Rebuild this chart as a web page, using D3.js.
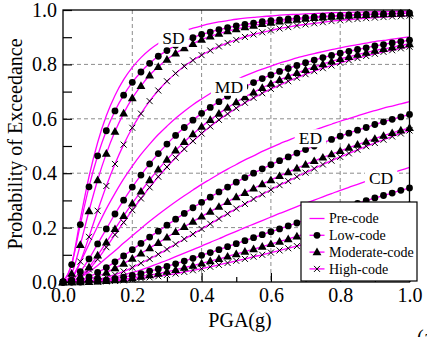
<!DOCTYPE html>
<html>
<head>
<meta charset="utf-8">
<script src="https://cdn.jsdelivr.net/npm/d3@7"></script>
<style>
  body { margin: 0; background: #fff; }
  svg { display: block; font-family: 'Liberation Serif', 'Tinos', 'DejaVu Serif', 'Noto Serif', serif; }
  svg text { font-family: 'Liberation Serif', 'Tinos', 'DejaVu Serif', 'Noto Serif', serif !important; fill: #000; }
</style>
</head>
<body>
<svg id="chart" width="427" height="337"></svg>
<script>
// PGA sample points (g)
const pga = [0,0.025,0.05,0.075,0.1,0.125,0.15,0.175,0.2,0.225,0.25,0.275,0.3,0.325,0.35,0.375,0.4,0.425,0.45,0.475,0.5,0.525,0.55,0.575,0.6,0.625,0.65,0.675,0.7,0.725,0.75,0.775,0.8,0.825,0.85,0.875,0.9,0.925,0.95,0.975,1];

const codes = ["Pre-code", "Low-code", "Moderate-code", "High-code"];
const states = ["SD", "MD", "ED", "CD"];

// Probability of exceedance, slight damage
const sdPre  = [0,0.066,0.231,0.387,0.513,0.611,0.686,0.744,0.789,0.825,0.854,0.877,0.895,0.910,0.923,0.933,0.942,0.950,0.956,0.961,0.966,0.970,0.973,0.976,0.978,0.981,0.983,0.984,0.986,0.987,0.988,0.990,0.990,0.991,0.992,0.993,0.993,0.994,0.994,0.995,0.995];
const sdLow  = [0,0.064,0.211,0.350,0.464,0.556,0.629,0.687,0.734,0.772,0.804,0.830,0.851,0.870,0.885,0.898,0.910,0.919,0.928,0.935,0.942,0.947,0.952,0.957,0.961,0.964,0.967,0.970,0.972,0.975,0.977,0.978,0.980,0.982,0.983,0.984,0.985,0.986,0.987,0.988,0.989];
const sdMod  = [0,0.031,0.137,0.261,0.375,0.472,0.553,0.620,0.676,0.721,0.760,0.791,0.818,0.841,0.860,0.876,0.891,0.903,0.913,0.922,0.930,0.937,0.943,0.949,0.954,0.958,0.962,0.965,0.968,0.971,0.973,0.976,0.977,0.979,0.981,0.982,0.984,0.985,0.986,0.987,0.988];
const sdHigh = [0,0.012,0.075,0.166,0.262,0.353,0.434,0.505,0.567,0.619,0.665,0.704,0.738,0.767,0.793,0.815,0.834,0.851,0.866,0.879,0.890,0.901,0.910,0.918,0.925,0.932,0.937,0.943,0.947,0.951,0.955,0.959,0.962,0.965,0.967,0.970,0.972,0.974,0.976,0.977,0.979];

// Moderate damage
const mdPre  = [0,0.018,0.072,0.139,0.205,0.269,0.326,0.379,0.426,0.469,0.507,0.542,0.573,0.602,0.628,0.652,0.673,0.693,0.711,0.728,0.743,0.758,0.771,0.783,0.794,0.805,0.814,0.824,0.832,0.840,0.847,0.854,0.861,0.867,0.873,0.878,0.884,0.888,0.893,0.897,0.901];
const mdLow  = [0,0.007,0.038,0.085,0.140,0.195,0.250,0.301,0.349,0.393,0.434,0.472,0.507,0.539,0.568,0.595,0.620,0.642,0.663,0.683,0.701,0.718,0.733,0.748,0.761,0.774,0.785,0.796,0.806,0.816,0.825,0.833,0.841,0.848,0.855,0.861,0.868,0.873,0.879,0.884,0.889];
const mdMod  = [0,0.003,0.021,0.055,0.098,0.146,0.195,0.243,0.289,0.333,0.375,0.414,0.450,0.484,0.515,0.544,0.571,0.596,0.619,0.641,0.661,0.680,0.697,0.714,0.729,0.743,0.756,0.769,0.780,0.791,0.801,0.811,0.820,0.828,0.836,0.843,0.851,0.857,0.863,0.870,0.875];
const mdHigh = [0,0.002,0.017,0.046,0.084,0.128,0.174,0.219,0.264,0.307,0.348,0.387,0.423,0.457,0.489,0.518,0.546,0.572,0.596,0.618,0.639,0.659,0.677,0.694,0.710,0.724,0.738,0.751,0.764,0.775,0.786,0.796,0.806,0.815,0.823,0.831,0.839,0.846,0.852,0.859,0.865];

// Extensive damage
const edPre  = [0,0.003,0.016,0.037,0.061,0.088,0.115,0.143,0.170,0.197,0.223,0.248,0.272,0.295,0.317,0.338,0.359,0.378,0.397,0.415,0.432,0.449,0.464,0.480,0.494,0.508,0.521,0.534,0.546,0.558,0.569,0.580,0.591,0.601,0.611,0.621,0.630,0.639,0.647,0.655,0.663];
const edLow  = [0,0.001,0.007,0.019,0.035,0.053,0.074,0.096,0.119,0.142,0.165,0.187,0.209,0.231,0.252,0.273,0.293,0.312,0.331,0.349,0.367,0.384,0.400,0.416,0.431,0.446,0.460,0.474,0.487,0.500,0.512,0.524,0.536,0.547,0.558,0.568,0.579,0.589,0.598,0.607,0.616];
const edMod  = [0,0.000,0.004,0.011,0.021,0.035,0.051,0.068,0.086,0.105,0.125,0.144,0.164,0.184,0.203,0.222,0.241,0.259,0.277,0.295,0.312,0.328,0.344,0.360,0.375,0.390,0.404,0.418,0.432,0.445,0.458,0.470,0.482,0.494,0.505,0.516,0.527,0.538,0.548,0.558,0.567];
const edHigh = [0,0.000,0.001,0.004,0.009,0.017,0.027,0.039,0.053,0.069,0.085,0.102,0.120,0.139,0.158,0.176,0.195,0.214,0.233,0.251,0.270,0.287,0.305,0.322,0.339,0.356,0.371,0.387,0.402,0.417,0.432,0.446,0.460,0.473,0.486,0.499,0.511,0.523,0.535,0.546,0.557];

// Complete damage
const cdPre  = [0,0.000,0.001,0.003,0.006,0.011,0.018,0.026,0.035,0.045,0.056,0.068,0.080,0.093,0.106,0.119,0.132,0.146,0.159,0.173,0.186,0.200,0.213,0.226,0.239,0.252,0.264,0.277,0.289,0.301,0.313,0.325,0.337,0.348,0.359,0.370,0.381,0.391,0.401,0.411,0.421];
const cdLow  = [0,0.000,0.000,0.002,0.004,0.007,0.012,0.018,0.024,0.031,0.040,0.048,0.057,0.067,0.077,0.087,0.098,0.108,0.119,0.130,0.141,0.152,0.163,0.174,0.185,0.195,0.206,0.217,0.228,0.238,0.249,0.259,0.269,0.279,0.289,0.299,0.309,0.318,0.327,0.337,0.346];
const cdMod  = [0,0.000,0.000,0.001,0.002,0.004,0.007,0.010,0.015,0.020,0.025,0.031,0.038,0.045,0.053,0.060,0.069,0.077,0.085,0.094,0.103,0.112,0.121,0.130,0.140,0.149,0.158,0.168,0.177,0.186,0.195,0.204,0.214,0.223,0.232,0.240,0.250,0.258,0.267,0.276,0.284];
const cdHigh = [0,0.000,0.000,0.000,0.001,0.002,0.004,0.006,0.009,0.013,0.017,0.021,0.026,0.031,0.037,0.043,0.049,0.056,0.063,0.070,0.078,0.085,0.093,0.100,0.108,0.116,0.124,0.132,0.140,0.148,0.157,0.165,0.173,0.181,0.189,0.197,0.206,0.214,0.222,0.230,0.238];

const majorTicks = [0, 0.2, 0.4, 0.6, 0.8, 1.0];
const minorTicks = [0.1, 0.3, 0.5, 0.7, 0.9];
const gridTicks = [0.2, 0.4, 0.6, 0.8];

// ---- drawing ----
const SERIF = "'Liberation Serif', 'Tinos', 'DejaVu Serif', 'Noto Serif', serif";
const svg = d3.select("#chart");
const plot = { left: 63, right: 409.5, top: 10, bottom: 282 };
const x = d3.scaleLinear().domain([0, 1]).range([plot.left, plot.right]);
const y = d3.scaleLinear().domain([0, 1]).range([plot.bottom, plot.top]);

const MAGENTA = "#ff00ff";

// dashed grid
const grid = svg.append("g").attr("stroke", "#8c8c8c").attr("stroke-width", 1).attr("stroke-dasharray", "4,3");
grid.selectAll(".gx").data(gridTicks).join("line")
  .attr("x1", d => x(d)).attr("x2", d => x(d)).attr("y1", plot.top).attr("y2", plot.bottom);
grid.selectAll(".gy").data(gridTicks).join("line")
  .attr("y1", d => y(d)).attr("y2", d => y(d)).attr("x1", plot.left).attr("x2", plot.right);

const curves = {
  SD: [sdPre, sdLow, sdMod, sdHigh],
  MD: [mdPre, mdLow, mdMod, mdHigh],
  ED: [edPre, edLow, edMod, edHigh],
  CD: [cdPre, cdLow, cdMod, cdHigh]
};

const line = d3.line().x(d => x(d[0])).y(d => y(d[1])).curve(d3.curveMonotoneX);
const toPts = arr => pga.map((p, i) => [p, arr[i]]).filter(d => d[1] !== undefined);

const lines = svg.append("g").attr("fill", "none").attr("stroke", MAGENTA).attr("stroke-width", 1.3);
states.forEach(s => curves[s].forEach(arr => {
  lines.append("path").attr("d", line(toPts(arr)));
}));

// marker shapes per code level (Pre-code has none)
const markerDraw = [
  null,
  (g) => g.append("circle").attr("r", 3.4).attr("fill", "#000"),
  (g) => g.append("path").attr("d", d3.symbol(d3.symbolTriangle, 34)()).attr("fill", "#000").attr("transform", "translate(0,0.6)"),
  (g) => g.append("path").attr("d", "M-3,-3L3,3M-3,3L3,-3").attr("stroke", "#000").attr("stroke-width", 1).attr("fill", "none")
];

const marks = svg.append("g");
states.forEach(s => curves[s].forEach((arr, ci) => {
  if (!markerDraw[ci]) return;
  toPts(arr).forEach(d => {
    const g = marks.append("g").attr("transform", `translate(${x(d[0])},${y(d[1])})`);
    markerDraw[ci](g);
  });
}));

// damage-state labels on white patches
const stateLabels = [
  { text: "SD", px: 0.319, py: 0.898 },
  { text: "MD", px: 0.479, py: 0.718 },
  { text: "ED", px: 0.714, py: 0.529 },
  { text: "CD", px: 0.918, py: 0.381 }
];
const lab = svg.append("g");
stateLabels.forEach(l => {
  const t = lab.append("text").attr("x", x(l.px)).attr("y", y(l.py))
    .attr("text-anchor", "middle").attr("dy", "0.35em")
    .attr("font-family", SERIF).attr("font-size", 17.5).text(l.text);
  const b = t.node().getBBox();
  lab.insert("rect", "text").attr("x", b.x - 4).attr("y", b.y + 1).attr("width", b.width + 8).attr("height", b.height - 2)
    .attr("fill", "#fff");
});

// frame
svg.append("rect").attr("x", plot.left).attr("y", plot.top)
  .attr("width", plot.right - plot.left).attr("height", plot.bottom - plot.top)
  .attr("fill", "none").attr("stroke", "#000").attr("stroke-width", 1.3);

// axes
const fmt = d3.format(".1f");
svg.append("g").attr("transform", `translate(${plot.left},0)`)
  .call(d3.axisLeft(y).tickValues(majorTicks).tickSize(-9).tickPadding(6).tickFormat(fmt));
svg.append("g").attr("transform", `translate(${plot.left},0)`)
  .call(d3.axisLeft(y).tickValues(minorTicks).tickSize(-9).tickFormat(""));
svg.append("g").attr("transform", `translate(0,${plot.bottom})`)
  .call(d3.axisBottom(x).tickValues(majorTicks).tickSize(-9).tickPadding(6).tickFormat(fmt));
svg.append("g").attr("transform", `translate(0,${plot.bottom})`)
  .call(d3.axisBottom(x).tickValues(minorTicks).tickSize(-5).tickFormat(""));
svg.selectAll(".domain").remove();
svg.selectAll("g[font-family]").attr("font-family", SERIF);
svg.selectAll(".tick line").attr("stroke", "#000").attr("stroke-width", 1.2);
svg.selectAll(".tick text").attr("font-size", 20).attr("font-family", SERIF).attr("fill", "#000");

// axis titles
svg.append("text").attr("x", 240).attr("y", 327).attr("text-anchor", "middle")
  .attr("font-family", SERIF).attr("font-size", 20).text("PGA(g)");
svg.append("text").attr("transform", "translate(22,144) rotate(-90)")
  .attr("text-anchor", "middle").attr("font-family", SERIF).attr("font-size", 20).text("Probability of Exceedance");
svg.append("text").attr("x", 417).attr("y", 344).attr("font-family", SERIF).attr("font-size", 20).text("(a)");

// legend
const lg = svg.append("g").attr("transform", "translate(301,202)");
lg.append("rect").attr("width", 116).attr("height", 79).attr("fill", "#fff").attr("stroke", "#000").attr("stroke-width", 1.2);
codes.forEach((c, i) => {
  const yy = 16.5 + i * 16.8;
  lg.append("line").attr("x1", 8.5).attr("x2", 23.5).attr("y1", yy).attr("y2", yy)
    .attr("stroke", MAGENTA).attr("stroke-width", 1.3);
  if (markerDraw[i]) {
    const g = lg.append("g").attr("transform", `translate(16,${yy})`);
    markerDraw[i](g);
  }
  lg.append("text").attr("x", 28).attr("y", yy).attr("dy", "0.35em")
    .attr("font-family", SERIF).attr("font-size", 14).text(c);
});
</script>
</body>
</html>
